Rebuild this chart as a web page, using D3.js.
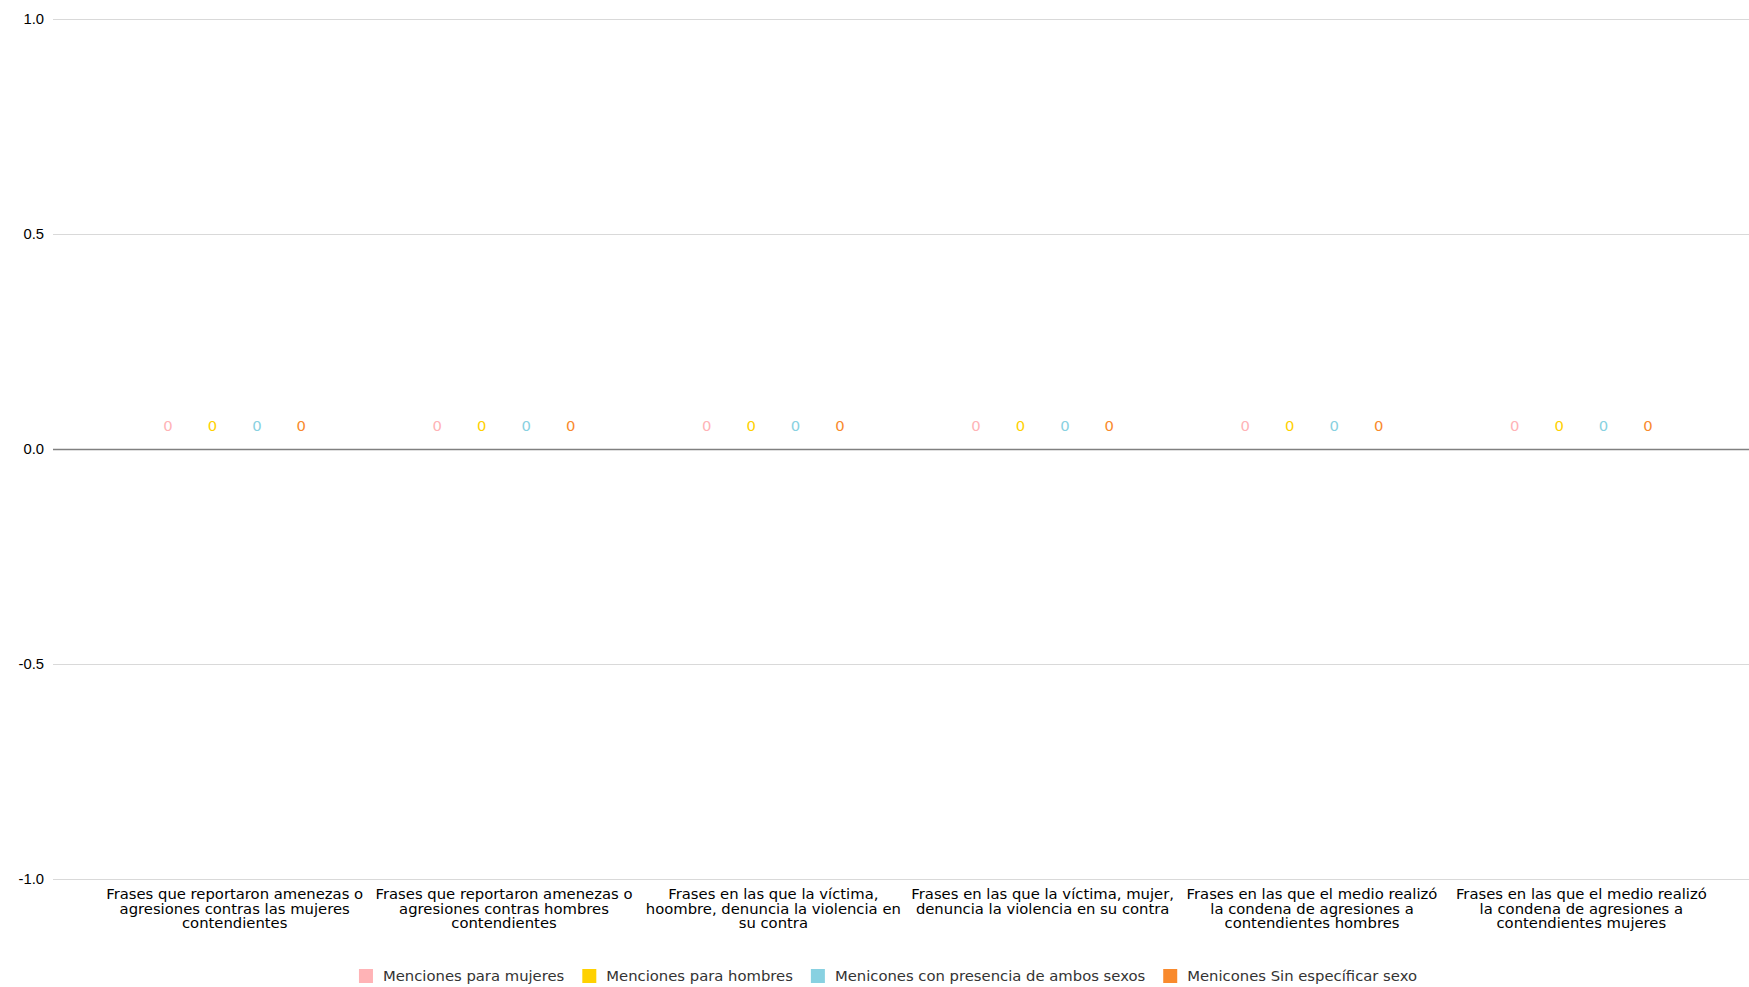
<!DOCTYPE html>
<html><head><meta charset="utf-8">
<script src="https://cdn.jsdelivr.net/npm/d3@7"></script>
<style>body{margin:0;background:#fff;}svg{display:block;font-family:"DejaVu Sans",Verdana,sans-serif;}</style>
</head><body><svg id="c" width="1749" height="987"></svg>
<script>
const categories = [
  "Frases que reportaron amenezas o\nagresiones contras las mujeres\ncontendientes",
  "Frases que reportaron amenezas o\nagresiones contras hombres\ncontendientes",
  "Frases en las que la víctima,\nhoombre, denuncia la violencia en\nsu contra",
  "Frases en las que la víctima, mujer,\ndenuncia la violencia en su contra",
  "Frases en las que el medio realizó\nla condena de agresiones a\ncontendientes hombres",
  "Frases en las que el medio realizó\nla condena de agresiones a\ncontendientes mujeres"
];
const seriesNames = ["Menciones para mujeres","Menciones para hombres","Menicones con presencia de ambos sexos","Menicones Sin específicar sexo"];
const seriesColors = ["#ffb3b6","#ffd100","#88d1e1","#f98a2d"];
const mujeres = [0,0,0,0,0,0];
const hombres = [0,0,0,0,0,0];
const ambos = [0,0,0,0,0,0];
const sinSexo = [0,0,0,0,0,0];
const yTicks = [-1.0,-0.5,0.0,0.5,1.0];

const FS = "14.8px";
const seriesValues = [mujeres, hombres, ambos, sinSexo];
const svg = d3.select("#c");
const y = d3.scaleLinear().domain([-1,1]).range([879,19]);
const x0 = d3.scaleBand().domain(categories).range([100,1716]).paddingInner(0.34).paddingOuter(0.17);
const x1 = d3.scaleBand().domain(seriesNames).range([0,x0.bandwidth()]).padding(0);

// grid
const fmt = d3.format(".1f");
const yAxis = d3.axisLeft(y).tickValues(yTicks).tickFormat(d=>fmt(d).replace("\u2212","-")).tickSize(-(1749-53)).tickPadding(9);
const ga = svg.append("g").attr("transform","translate(53,0)").call(yAxis);
ga.select(".domain").remove();
ga.selectAll(".tick line").attr("stroke", d=> d===0 ? "#808080" : "#d9d9d9").attr("stroke-width", d=> d===0?1.5:1);
ga.selectAll(".tick text").attr("fill","#000").style("font-size",FS);

// bars + labels
const groups = svg.append("g").selectAll("g").data(categories).join("g")
  .attr("transform", d=>`translate(${x0(d)},0)`);
groups.selectAll("rect").data((d,i)=>seriesNames.map((s,j)=>({s, v:seriesValues[j][i], c:seriesColors[j]}))).join("rect")
  .attr("x", d=>x1(d.s)+4).attr("width", x1.bandwidth()-8)
  .attr("y", d=>y(Math.max(0,d.v))).attr("height", d=>Math.abs(y(d.v)-y(0)))
  .attr("fill", d=>d.c);
groups.selectAll("text").data((d,i)=>seriesNames.map((s,j)=>({s, v:seriesValues[j][i], c:seriesColors[j]}))).join("text")
  .attr("x", d=>x1(d.s)+x1.bandwidth()/2).attr("y", d=>y(Math.max(0,d.v))-18)
  .attr("text-anchor","middle").attr("fill", d=>d.c).style("font-size",FS)
  .text(d=>d.v);

// category labels
const cl = svg.append("g").selectAll("text").data(categories).join("text")
  .attr("x", d=>x0(d)+x0.bandwidth()/2).attr("y", 899)
  .attr("text-anchor","middle").attr("fill","#000").style("font-size",FS);
cl.selectAll("tspan").data(d=>d.split("\n")).join("tspan")
  .attr("x", function(){return d3.select(this.parentNode).attr("x");})
  .attr("dy",(d,i)=> i===0?0:14.5).text(d=>d);

// legend
const lg = svg.append("g");
let cx = 0;
seriesNames.forEach((s,i)=>{
  const g = lg.append("g").attr("transform",`translate(${cx},0)`);
  g.append("rect").attr("x",0).attr("y",-7).attr("width",14).attr("height",14).attr("fill",seriesColors[i]);
  const t = g.append("text").attr("x",24).attr("y",5).attr("fill","#333").style("font-size",FS).text(s);
  cx += 24 + t.node().getComputedTextLength() + 18;
});
const lw = cx - 18;
lg.attr("transform",`translate(${888 - lw/2},976)`);
</script></body></html>
